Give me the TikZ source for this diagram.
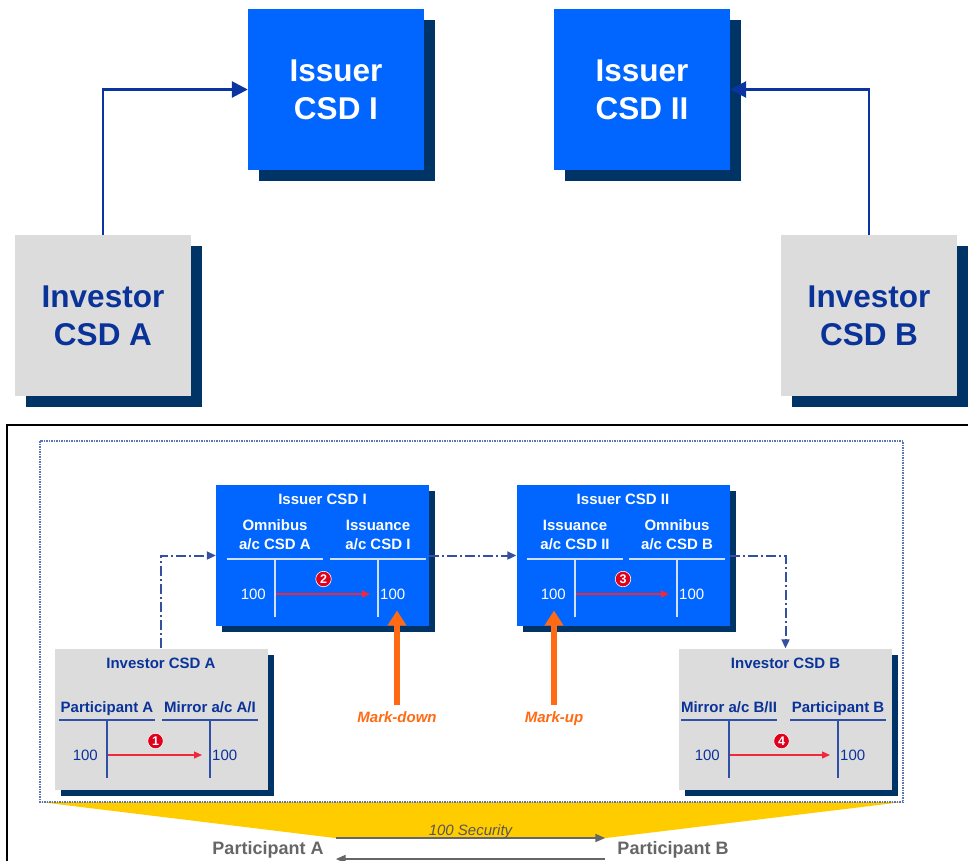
\documentclass[tikz,border=0pt]{standalone}
\usepackage{fontspec}
\setmainfont{Liberation Sans}
\usepackage{tikz}
\usetikzlibrary{arrows.meta, shadows, calc}
\definecolor{csd-blue}{HTML}{0066FF}
\definecolor{csd-navy}{HTML}{003366}
\definecolor{csd-grey}{HTML}{DCDCDC}
\definecolor{csd-ink}{HTML}{0A3399}
\definecolor{link-color}{HTML}{0A34A0}
\definecolor{flow-color}{HTML}{34509E}
\definecolor{tx-red}{HTML}{F0283C}
\definecolor{dot-red}{HTML}{E0001B}
\definecolor{mark-orange}{HTML}{FF6A13}
\definecolor{band-gold}{HTML}{FFCC00}
\definecolor{note-grey}{HTML}{666666}
\definecolor{frame-dots}{HTML}{5A75B8}
\definecolor{acc-pale}{HTML}{CFE0FF}
\definecolor{acc-dark}{HTML}{3050A8}
\colorlet{acc-ink}{white}
\colorlet{acc-line}{acc-pale}
\tikzset{
    csd/.style = {minimum width=176pt, minimum height=161pt, inner sep=0pt, align=center,
        font=\fontsize{31.5}{38}\selectfont\bfseries,
        drop shadow={shadow xshift=11pt, shadow yshift=-11pt, opacity=1, fill=csd-navy}},
    issuer/.style = {csd, fill=csd-blue, text=white},
    investor/.style = {csd, fill=csd-grey, text=csd-ink},
    link/.style = {draw=link-color, line width=2.7pt, -{Triangle[length=16pt,width=16pt]}},
    ledger/.style = {minimum width=213pt, minimum height=141pt, inner sep=0pt,
        drop shadow={shadow xshift=6pt, shadow yshift=-6pt, opacity=1, fill=csd-navy}},
    ledger title/.style = {inner sep=0pt, font=\fontsize{15}{19}\selectfont\bfseries},
    acc head/.style = {inner sep=0pt, align=center, text=acc-ink, anchor=south, text depth=0pt,
        font=\fontsize{15}{19}\selectfont\bfseries},
    acc amt/.style = {inner sep=1pt, text=acc-ink, font=\fontsize{15}{18}\selectfont},
    acc east/.style = {anchor=east, xshift=-8pt},
    acc west/.style = {anchor=west, xshift=1pt},
    acc rule/.style = {draw=acc-line, line width=1.3pt},
    tx/.style = {draw=tx-red, line width=1.3pt, -{Triangle[length=8pt,width=7pt]},
        shorten <=1pt, shorten >=8pt},
    num dot/.style = {circle, fill=dot-red, draw=white, line width=.6pt, text=white,
        inner sep=0pt, minimum size=15.5pt, font=\fontsize{12.5}{12.5}\selectfont\bfseries},
    flow/.style = {draw=flow-color, line width=2pt, dash pattern=on 10pt off 3pt on 2pt off 3pt,
        -{Triangle[length=9pt,width=8pt]}},
    mark label/.style = {inner sep=1pt, text height=11pt, text depth=3pt, text=mark-orange,
        font=\fontsize{15}{18}\selectfont\bfseries\itshape},
    push/.style = {draw=mark-orange, line width=6pt, -{Triangle[length=15pt,width=18pt]},
        shorten <=5pt, shorten >=10pt},
    party/.style = {inner sep=0pt, text=note-grey, font=\fontsize{18}{22}\selectfont\bfseries},
    settle/.style = {draw=note-grey, line width=2pt, -{Triangle[length=10pt,width=8pt]}},
    pics/tacc/.style n args = {3}{
        code = {%
        \coordinate (-top) at (0,0);
        \coordinate (-foot) at (0,58);
        \node[acc head] (-head) at (0,#2) {#1};
        \node[acc amt, acc #3] (-amt) at (0,35) {100};
        \draw[acc rule] (-48,0) -- (48,0);
        \draw[acc rule] (-top) -- (-foot);
        }
    },
}

\begin{document}
\begin{tikzpicture}[x=1pt,y=-1pt]
\useasboundingbox (0,0) rectangle (968,860);

% overview
\node[issuer] (csdI) at (336,89.5) {Issuer\\CSD I};
\node[issuer] (csdII) at (642,89.5) {Issuer\\CSD II};
\node[investor] (csdA) at (103,315.5) {Investor\\CSD A};
\node[investor] (csdB) at (869,315.5) {Investor\\CSD B};
\draw[link] (csdA.north) |- (csdI.west);
\draw[link] (csdB.north) |- (csdII.east);

% detail
\draw[line width=2pt] (975,425) -- (7,425) -- (7,870);
\fill[band-gold] (40,802) -- (903,802) -- (606,838) -- (335,838) -- cycle;
\draw[frame-dots, line width=1.2pt, dash pattern=on 1.5pt off 1pt] (40,441) rectangle (903,802);

\node[ledger, fill=csd-blue] (bookI) at (322.5,555.5) {};
\node[ledger, fill=csd-blue] (bookII) at (623,555.5) {};
\node[ledger, fill=csd-grey] (bookA) at (161,719) {};
\node[ledger, fill=csd-grey] (bookB) at (785.5,719) {};

\node[ledger title, text=white] (bookI-title) at ($(bookI.north)+(0,15)$) {Issuer CSD I};
\node[ledger title, text=white] (bookII-title) at ($(bookII.north)+(0,15)$) {Issuer CSD II};
\node[ledger title, text=csd-ink] (bookA-title) at ($(bookA.north)+(0,15)$) {Investor CSD A};
\node[ledger title, text=csd-ink] (bookB-title) at ($(bookB.north)+(0,15)$) {Investor CSD B};

\begin{scope}
    \pic (omA) at (275,559) {tacc={Omnibus\\a/c CSD A}{-9}{east}};
    \pic (isI) at (378,559) {tacc={Issuance\\a/c CSD I}{-9}{west}};
    \pic (isII) at (575,559) {tacc={Issuance\\a/c CSD II}{-9}{east}};
    \pic (omB) at (677,559) {tacc={Omnibus\\a/c CSD B}{-9}{west}};
\end{scope}

\begin{scope}
    \colorlet{acc-ink}{csd-ink}
    \colorlet{acc-line}{acc-dark}
    \pic (ptA) at (107,720) {tacc={Participant A}{-7.5}{east}};
    \pic (mrA) at (210,720) {tacc={Mirror a/c A/I}{-7.5}{west}};
    \pic (mrB) at (729,720) {tacc={Mirror a/c B/II}{-7.5}{east}};
    \pic (ptB) at (838,720) {tacc={Participant B}{-7.5}{west}};
\end{scope}

\draw[tx] (ptA-top |- ptA-amt) -- (mrA-top |- ptA-amt);
\draw[tx] (omA-top |- omA-amt) -- (isI-top |- omA-amt);
\draw[tx] (isII-top |- isII-amt) -- (omB-top |- isII-amt);
\draw[tx] (mrB-top |- mrB-amt) -- (ptB-top |- mrB-amt);

\node[num dot] (n1) at ($(ptA-top)!.5!(mrA-top)+(-3,21)$) {1};
\node[num dot] (n2) at ($(omA-top)!.5!(isI-top)+(-3,20)$) {2};
\node[num dot] (n3) at ($(isII-top)!.5!(omB-top)+(-3,20)$) {3};
\node[num dot] (n4) at ($(mrB-top)!.5!(ptB-top)+(-2,21)$) {4};

\draw[flow] (bookA.north) |- (bookI.west);
\draw[flow] (bookI.east) -- (bookII.west);
\draw[flow] (bookII.east) -| (bookB.north);

\node[mark label] (mdown) at (397,718) {Mark-down};
\node[mark label] (mup) at (554,718) {Mark-up};
\draw[push] (mdown.north) -- (mdown.north |- isI-amt.south);
\draw[push] (mup.north) -- (mup.north |- isII-amt.south);

% settlement
\node[party] (partA) at (268,850) {Participant A};
\node[party] (partB) at (673,850) {Participant B};
\draw[settle] ($(partA.east)+(12,-12)$) -- ($(partB.west)+(-12,-12)$)
    node[pos=.5, anchor=base, yshift=3pt, inner sep=0pt, text=note-grey!85!black,
         font=\fontsize{15}{18}\selectfont\itshape] (sec) {100 Security};
\draw[settle] ($(partB.west)+(-12,9)$) -- ($(partA.east)+(12,9)$);

\end{tikzpicture}
\end{document}
